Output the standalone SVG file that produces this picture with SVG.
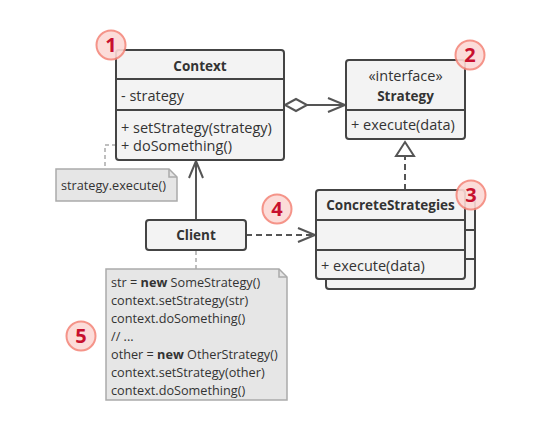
<svg xmlns="http://www.w3.org/2000/svg" width="553" height="447" viewBox="0 0 553 447">
<style>
.box{fill:#f3f3f3;stroke:#444;stroke-width:2}
.div{stroke:#444;stroke-width:2}
.t{font-family:"Open Sans","DejaVu Sans",sans-serif;font-size:14.5px;fill:#333}
.b{font-weight:bold;text-anchor:middle;font-size:13.5px}
.note{fill:#e6e6e6;stroke:#aaa;stroke-width:1.5}
.nt{font-family:"Open Sans","DejaVu Sans",sans-serif;font-size:12.7px;fill:#333}
.line{stroke:#555;stroke-width:2;fill:none}
.dash{stroke:#555;stroke-width:2;fill:none;stroke-dasharray:6 4}
.ndash{stroke:#aaa;stroke-width:1.5;fill:none;stroke-dasharray:4 3}
.num circle{fill:#fcd9d5;stroke:#f4897d;stroke-width:2;opacity:0.9}
.num text{font-family:"Open Sans","DejaVu Sans",sans-serif;font-size:20px;font-weight:bold;fill:#c8102e;text-anchor:middle}
</style>
<defs>
<marker id="open" markerWidth="20" markerHeight="16" refX="18" refY="8" orient="auto" markerUnits="userSpaceOnUse">
<path d="M1,1 L18,8 L1,15" fill="none" stroke="#555" stroke-width="2"/>
</marker>
</defs>
<g id="connectors">
<path class="line" d="M306,105 H345" marker-end="url(#open)"/>
<path d="M285,105 L296,99 L307,105 L296,111 Z" fill="#fff" stroke="#555" stroke-width="2"/>
<path class="line" d="M196,220 V161" marker-end="url(#open)"/>
<path class="dash" d="M246,235 H315" marker-end="url(#open)"/>
<path class="dash" d="M405,190 V157"/>
<path d="M405,142 L414,156 L396,156 Z" fill="#fff" stroke="#555" stroke-width="2"/>
<path class="ndash" d="M116,145 H105 V169"/>
<path class="ndash" d="M196,251 V269"/>
</g>
<g id="context">
<rect class="box" x="116" y="50" width="168" height="110" rx="3"/>
<line class="div" x1="116" y1="79" x2="284" y2="79"/>
<line class="div" x1="116" y1="110" x2="284" y2="110"/>
<text class="t b" x="200" y="71">Context</text>
<text class="t" x="121" y="101">- strategy</text>
<text class="t" x="121" y="133">+ setStrategy(strategy)</text>
<text class="t" x="121" y="151">+ doSomething()</text>
</g>
<g id="strategy">
<rect class="box" x="346" y="60" width="119" height="79" rx="3"/>
<line class="div" x1="346" y1="110" x2="465" y2="110"/>
<text class="t" x="405.500" y="81" text-anchor="middle">«interface»</text>
<text class="t b" x="405.500" y="101">Strategy</text>
<text class="t" x="351" y="130">+ execute(data)</text>
</g>
<g id="concrete">
<rect class="box" x="326" y="200" width="149" height="89" rx="3"/>
<line class="div" x1="465" y1="230" x2="475" y2="230"/>
<line class="div" x1="465" y1="259" x2="475" y2="259"/>
<rect class="box" x="316" y="190" width="149" height="89" rx="3"/>
<line class="div" x1="316" y1="220" x2="465" y2="220"/>
<line class="div" x1="316" y1="250" x2="465" y2="250"/>
<text class="t b" x="390.500" y="210">ConcreteStrategies</text>
<text class="t" x="321" y="271">+ execute(data)</text>
</g>
<g id="client">
<rect class="box" x="146" y="220" width="100" height="30" rx="3"/>
<text class="t b" x="196" y="240">Client</text>
</g>
<g id="note1">
<path class="note" d="M56,169 H169 L177,177 V201 H56 Z"/>
<path d="M169,169 V177 H177" fill="none" stroke="#aaa" stroke-width="1.5"/>
<text class="nt" x="61" y="190">strategy.execute()</text>
</g>
<g id="note2">
<path class="note" d="M106,269 H279 L287,277 V400 H106 Z"/>
<path d="M279,269 V277 H287" fill="none" stroke="#aaa" stroke-width="1.5"/>
<text class="nt" x="111" y="287">str = <tspan font-weight="bold">new</tspan> SomeStrategy()</text>
<text class="nt" x="111" y="305">context.setStrategy(str)</text>
<text class="nt" x="111" y="323">context.doSomething()</text>
<text class="nt" x="111" y="341">// ...</text>
<text class="nt" x="111" y="359">other = <tspan font-weight="bold">new</tspan> OtherStrategy()</text>
<text class="nt" x="111" y="377">context.setStrategy(other)</text>
<text class="nt" x="111" y="395">context.doSomething()</text>
</g>
<g id="n1" class="num"><circle cx="111" cy="45" r="14.500"/><text x="111" y="52">1</text></g>
<g id="n2" class="num"><circle cx="470" cy="55" r="14.500"/><text x="470" y="62">2</text></g>
<g id="n3" class="num"><circle cx="471" cy="195" r="14.500"/><text x="471" y="202">3</text></g>
<g id="n4" class="num"><circle cx="277" cy="209" r="14.500"/><text x="277" y="216">4</text></g>
<g id="n5" class="num"><circle cx="81" cy="336" r="14.500"/><text x="81" y="343">5</text></g>
</svg>
